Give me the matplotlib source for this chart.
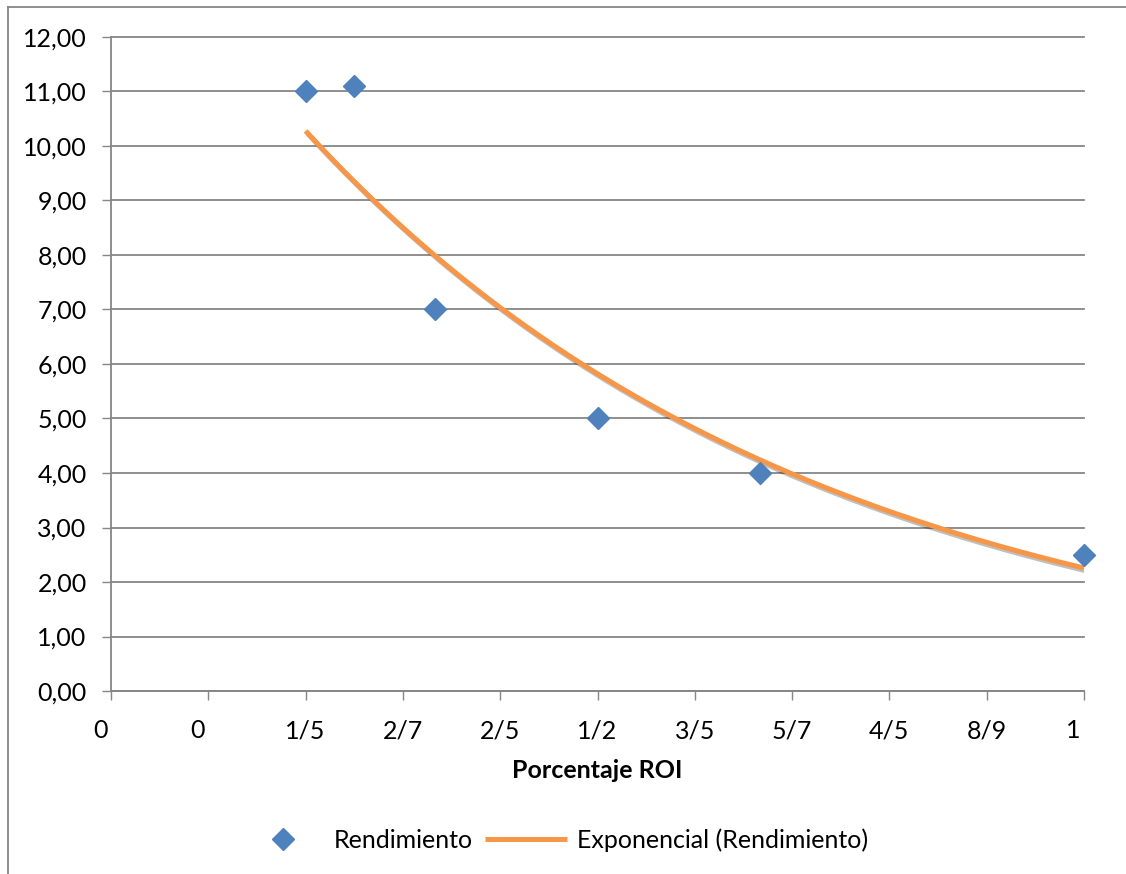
import numpy as np
import matplotlib.pyplot as plt
import matplotlib.patheffects as pe
import matplotlib.transforms as mtransforms
from matplotlib.lines import Line2D

plt.rcParams['font.family'] = ['Lato', 'DejaVu Sans']

# data
roi = [0.2, 0.25, 1/3, 0.5, 2/3, 1.0]
rendimiento = [11.0, 11.1, 7.0, 5.0, 4.0, 2.5]

x_ticks = [0.0, 0.1, 0.2, 0.3, 0.4, 0.5, 0.6, 0.7, 0.8, 0.9, 1.0]
x_labels = ["0", "0", "1/5", "2/7", "2/5", "1/2", "3/5", "5/7", "4/5", "8/9", "1"]
y_ticks = list(range(0, 13))
y_labels = [f"{v:.2f}".replace(".", ",") for v in y_ticks]

blue = "#4F81BD"
orange = "#F79646"
grey = "#868686"
fs = 18

W, H = 1126, 874
fig = plt.figure(figsize=(W / 100, H / 100), dpi=100)
ax = fig.add_axes([111 / W, 1 - 691 / H, (1084 - 111) / W, (691 - 37) / H])

# exponential trendline, fitted like excel does (ln y linear in x)
b, ln_a = np.polyfit(roi, np.log(rendimiento), 1)
xs = np.linspace(min(roi), max(roi), 300)
trend = np.exp(ln_a) * np.exp(b * xs)

ax.plot(xs, trend, color=orange, lw=3.6, solid_capstyle="butt", zorder=3,
        path_effects=[pe.SimpleLineShadow(offset=(1.5, -2), shadow_color="black", alpha=0.25),
                      pe.Normal()])
ax.plot(roi, rendimiento, linestyle="none", marker="D", ms=11, color=blue, zorder=4,
        clip_on=False)

ax.set_xlim(0, 1)
ax.set_ylim(0, 12)
ax.set_xticks(x_ticks)
ax.set_xticklabels(x_labels, fontsize=fs)
ax.set_yticks(y_ticks)
ax.set_yticklabels(y_labels, fontsize=fs)

for side in ["top", "right"]:
    ax.spines[side].set_visible(False)
for side in ["left", "bottom"]:
    ax.spines[side].set_color(grey)
    ax.spines[side].set_linewidth(1.3)
ax.tick_params(axis="both", direction="out", length=6.5, width=1.0, color=grey)
ax.tick_params(axis="y", pad=11)
ax.tick_params(axis="x", pad=14)

ax.yaxis.grid(True, color=grey, lw=1.3)
ax.set_axisbelow(True)
for gl in ax.get_ygridlines():
    gl.set_clip_on(False)

# excel pads single-digit fraction labels, so they sit left of the tick
off = mtransforms.ScaledTranslation(-0.11, 0, fig.dpi_scale_trans)
for lab in ax.get_xticklabels():
    if "/" not in lab.get_text():
        lab.set_transform(lab.get_transform() + off)

ax.set_xlabel("Porcentaje ROI", fontsize=fs, fontweight="bold", labelpad=12)

handles = [
    Line2D([], [], linestyle="none", marker="D", ms=11, color=blue),
    Line2D([], [], color=orange, lw=3.6, solid_capstyle="butt"),
]
fig.legend(handles, ["Rendimiento", "Exponencial (Rendimiento)"], loc="center",
           bbox_to_anchor=(555 / W, 1 - 840 / H), ncol=2, frameon=False,
           fontsize=fs, handlelength=3.3, handletextpad=0.4, columnspacing=0.45)

# outer chart border (only left and top visible in the crop)
fig.add_artist(Line2D([8 / W, 8 / W], [0, 1 - 7 / H], transform=fig.transFigure,
                      color=grey, lw=1.3))
fig.add_artist(Line2D([8 / W, 1], [1 - 7 / H, 1 - 7 / H], transform=fig.transFigure,
                      color=grey, lw=1.3))

fig.savefig("out.png", dpi=100)
